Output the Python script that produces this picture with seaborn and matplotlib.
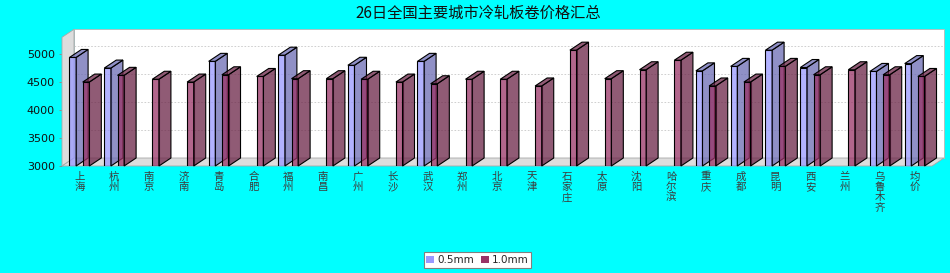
import numpy as np
import pandas as pd
import matplotlib
matplotlib.use('Agg')
import matplotlib.pyplot as plt
import matplotlib.transforms as mtransforms
from matplotlib.patches import Polygon, Rectangle
from matplotlib.lines import Line2D
from matplotlib.colors import to_rgb
import seaborn as sns

# ---------------- data ----------------
title = "26日全国主要城市冷轧板卷价格汇总"
cities = ["上海", "杭州", "南京", "济南", "青岛", "合肥", "福州", "南昌", "广州", "长沙",
          "武汉", "郑州", "北京", "天津", "石家庄", "太原", "沈阳", "哈尔滨", "重庆", "成都",
          "昆明", "西安", "兰州", "乌鲁木齐", "均价"]
series_names = ["0.5mm", "1.0mm"]
nan = np.nan
price_05 = [4940, 4750, nan, nan, 4870, nan, 4980, nan, 4800, nan,
            4870, nan, nan, nan, nan, nan, nan, nan, 4700, 4780,
            5070, 4760, nan, 4690, 4830]
price_10 = [4500, 4620, 4550, 4500, 4630, 4600, 4560, 4560, 4550, 4500,
            4470, 4550, 4550, 4430, 5070, 4560, 4720, 4890, 4430, 4500,
            4780, 4630, 4720, 4630, 4600]
y_ticks = [3000, 3500, 4000, 4500, 5000]
y_min, y_max = 3000, 5300

# ---------------- style ----------------
sns.set_style('white')
plt.rcParams['font.family'] = ['DejaVu Sans', 'Noto Sans CJK SC']

W, H = 950, 273
BG = '#00FFFF'
fig = plt.figure(figsize=(W / 100, H / 100), dpi=100, facecolor=BG)
L, R, B, T = 62, 932, 166, 37.3
ax = fig.add_axes([L / W, 1 - B / H, (R - L) / W, (B - T) / H])

df = pd.DataFrame({
    'city': cities * 2,
    'thickness': [series_names[0]] * len(cities) + [series_names[1]] * len(cities),
    'price': price_05 + price_10,
}).dropna()

colors = ['#9999FF', '#993366']
sns.barplot(data=df, x='city', y='price', hue='thickness', order=cities,
            hue_order=series_names, palette=colors, width=0.76, gap=0.5,
            errorbar=None, saturation=1, legend=False, edgecolor='black',
            linewidth=0.8, ax=ax)

ax.set_xlim(-0.5, len(cities) - 0.5)
ax.set_ylim(y_min, y_max)
ax.patch.set_visible(False)
for s in ax.spines.values():
    s.set_visible(False)
ax.set_xlabel('')
ax.set_ylabel('')

DX, DY = 12, 8
ident = mtransforms.IdentityTransform()


def P(x, y, back=False):
    px, py = ax.transData.transform((x, y))
    if back:
        px += DX
        py += DY
    return (px, py)


x0a, x1a = -0.5, len(cities) - 0.5

bars = sorted(list(ax.patches), key=lambda p: p.get_x())

# back wall
ax.add_patch(Polygon([P(x0a, y_min, True), P(x1a, y_min, True), P(x1a, y_max, True), P(x0a, y_max, True)],
                     closed=True, transform=ident, facecolor='white', edgecolor='#B8B8B8',
                     linewidth=0.6, clip_on=False, zorder=0.5))
# gridlines on back wall
for v in y_ticks[1:]:
    a, b = P(x0a, v, True), P(x1a, v, True)
    ax.add_line(Line2D([a[0], b[0]], [a[1], b[1]], transform=ident, color='#C8C8C8',
                       linewidth=0.6, linestyle=(0, (2, 2)), clip_on=False, zorder=0.6))
# left wall
ax.add_patch(Polygon([P(x0a, y_min), P(x0a, y_max), P(x0a, y_max, True), P(x0a, y_min, True)],
                     closed=True, transform=ident, facecolor='#DDDDDD', edgecolor='#A8A8A8',
                     linewidth=0.6, clip_on=False, zorder=0.7))
# floor
ax.add_patch(Polygon([P(x0a, y_min), P(x1a, y_min), P(x1a, y_min, True), P(x0a, y_min, True)],
                     closed=True, transform=ident, facecolor='#DDDDDD', edgecolor='#A8A8A8',
                     linewidth=0.6, clip_on=False, zorder=0.7))

# 3D bars
for i, p in enumerate(bars):
    top = p.get_y() + p.get_height()
    if not np.isfinite(top) or p.get_width() == 0:
        continue
    fc = to_rgb(p.get_facecolor())
    dark = tuple(c * 0.7 for c in fc)
    z = 2 + i * 0.01
    p.set_y(y_min)
    p.set_height(top - y_min)
    p.set_facecolor((*fc, 0.75))
    p.set_edgecolor('black')
    p.set_linewidth(0.8)
    p.set_zorder(z)
    xa, xb = p.get_x(), p.get_x() + p.get_width()
    side = Polygon([P(xb, y_min), P(xb, top), P(xb, top, True), P(xb, y_min, True)],
                   closed=True, transform=ident, facecolor=(*dark, 0.75), edgecolor='black',
                   linewidth=0.8, clip_on=False, zorder=z + 0.001)
    topf = Polygon([P(xa, top), P(xb, top), P(xb, top, True), P(xa, top, True)],
                   closed=True, transform=ident, facecolor=(*dark, 0.75), edgecolor='black',
                   linewidth=0.8, clip_on=False, zorder=z + 0.002)
    ax.add_patch(side)
    ax.add_patch(topf)

ax.set_xlim(-0.5, len(cities) - 0.5)
ax.set_ylim(y_min, y_max)

# ticks
ax.set_yticks(y_ticks)
ax.set_yticklabels([str(v) for v in y_ticks])
ax.tick_params(axis='y', left=True, length=2.5, width=0.6, color='#888888',
               labelsize=8, pad=2.5, labelcolor='#111111')
ax.set_xticks(range(len(cities)))
ax.set_xticklabels(['\n'.join(c) for c in cities], fontsize=7.5, color='#3c3c3c',
                   linespacing=1.05, family=['Noto Sans CJK SC', 'DejaVu Sans'])
ax.tick_params(axis='x', bottom=False, length=0, pad=4)

# title
fig.text(478 / W, 1 - 13.5 / H, title, ha='center', va='center', fontsize=11,
         color='#111111', family=['Noto Sans CJK SC', 'DejaVu Sans'])

# legend
handles = [Rectangle((0, 0), 1, 1, facecolor=c, edgecolor='none') for c in colors]
leg = fig.legend(handles, series_names, loc='center', bbox_to_anchor=(477.5 / W, 1 - 260 / H),
                 ncol=2, fontsize=7.5, frameon=True, fancybox=False, edgecolor='#808080',
                 facecolor='white', framealpha=1, handlelength=0.75, handleheight=0.75,
                 handletextpad=0.3, columnspacing=0.7, borderpad=0.25, borderaxespad=0)
leg.get_frame().set_linewidth(0.8)

fig.savefig('out.png', dpi=100, facecolor=fig.get_facecolor())
